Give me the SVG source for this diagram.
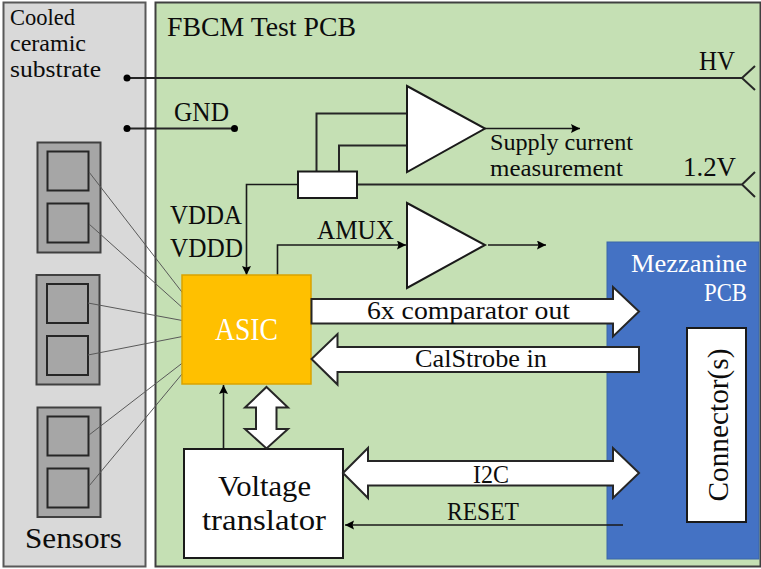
<svg xmlns="http://www.w3.org/2000/svg" width="761" height="569" viewBox="0 0 761 569">
<defs>
<marker id="ah" markerUnits="userSpaceOnUse" markerWidth="12" markerHeight="10" refX="9" refY="4.5" orient="auto"><path d="M0 0L9 4.5L0 9L1.5 4.5Z" fill="#000"/></marker>
</defs>
<style>
text{font-family:"Liberation Serif","Times New Roman",serif;fill:#0c0c0c}
text.w{fill:#fff}
.box{fill:#fff;stroke:#1a1a1a;stroke-width:2}
.mod{fill:#a6a6a6;stroke:#404040;stroke-width:2}
.cell{fill:#a6a6a6;stroke:#262626;stroke-width:2}
.ln{fill:none;stroke:#262626;stroke-width:2}
.thin{fill:none;stroke:#595959;stroke-width:1}
.arr{fill:none;stroke:#1a1a1a;stroke-width:1.6;marker-end:url(#ah)}
.big{fill:#fff;stroke:#262626;stroke-width:2;stroke-linejoin:miter}
.dot{fill:#000}
</style>
<g id="substrate"><rect x="3.5" y="2.5" width="142" height="564" fill="#d9d9d9" stroke="#595959" stroke-width="2"/>
<text x="10" y="25" font-size="24" textLength="65" lengthAdjust="spacingAndGlyphs">Cooled</text>
<text x="10" y="51" font-size="24" textLength="76" lengthAdjust="spacingAndGlyphs">ceramic</text>
<text x="10" y="77" font-size="24" textLength="91" lengthAdjust="spacingAndGlyphs">substrate</text>
<text x="25" y="548" font-size="29" textLength="97" lengthAdjust="spacingAndGlyphs">Sensors</text></g>
<g id="test-pcb"><rect x="155.5" y="2.5" width="605" height="564" fill="#c5e0b4" stroke="#404040" stroke-width="2"/>
<text x="167" y="36" font-size="28" textLength="189" lengthAdjust="spacingAndGlyphs">FBCM Test PCB</text></g>
<g id="mezzanine"><rect x="607" y="242" width="152" height="317" fill="#4472c4" stroke="#3a66a8" stroke-width="1"/>
<text class="w" x="631" y="272" font-size="26" textLength="116" lengthAdjust="spacingAndGlyphs">Mezzanine</text>
<text class="w" x="704" y="301" font-size="25" textLength="43" lengthAdjust="spacingAndGlyphs">PCB</text></g>
<g id="sensor-1"><rect class="mod" x="37.5" y="142.5" width="63" height="110"/><rect class="cell" x="47.5" y="151.5" width="41" height="39"/><rect class="cell" x="47.5" y="203.5" width="41" height="39"/></g>
<g id="sensor-2"><rect class="mod" x="36.5" y="275" width="63" height="109.5"/><rect class="cell" x="47" y="284" width="41" height="39"/><rect class="cell" x="47" y="336" width="41" height="39"/></g>
<g id="sensor-3"><rect class="mod" x="37.5" y="407.5" width="63" height="109.5"/><rect class="cell" x="47.5" y="416.5" width="41" height="39"/><rect class="cell" x="47.5" y="468.5" width="41" height="39"/></g>
<g id="connectors">
<path class="thin" d="M89 172L185 296M89 224L185 310M88 303L185 321M88 355L185 336M89 435L185 361M89 486L182 374"/>
<path class="ln" d="M755 66L742 78L755 90M742 78H127M755 172L742 184.500L755 197M742 184.500H357"/>
<path class="ln" d="M127 128.500H234.500M316.500 171V113.500H407M339 171V145.500H407"/>
<circle class="dot" cx="127" cy="78" r="3.500"/><circle class="dot" cx="127" cy="128.500" r="3.500"/><circle class="dot" cx="234.500" cy="128.500" r="3.500"/>
<path class="arr" d="M298 184.500H246.500V275"/>
<path class="arr" d="M485 128.500H580"/>
<path class="arr" d="M277.500 275V245H406"/>
<path class="arr" d="M488 245H546"/>
<path class="arr" d="M223.500 448V385"/>
<path class="arr" d="M623 525H345"/>
</g>
<g id="shunt"><rect class="box" x="298" y="171.500" width="59" height="26.500"/></g>
<g id="amp-current"><path class="box" d="M407 86L485 128.500L407 172Z"/></g>
<g id="amp-amux"><path class="box" d="M407 203L485 245L407 288Z"/></g>
<g id="asic"><rect x="182" y="275" width="129" height="109" fill="#ffc000" stroke="#d9a300" stroke-width="1.500"/><text class="w" x="215" y="340" font-size="31" textLength="63" lengthAdjust="spacingAndGlyphs">ASIC</text></g>
<g id="translator"><rect class="box" x="184" y="449" width="159" height="109"/>
<text x="218" y="496" font-size="29" textLength="93" lengthAdjust="spacingAndGlyphs">Voltage</text>
<text x="202" y="530" font-size="29" textLength="124" lengthAdjust="spacingAndGlyphs">translator</text></g>
<g id="connector-block"><rect class="box" x="687" y="328" width="59" height="194"/>
<text transform="translate(727.500 501.500) rotate(-90)" font-size="30" textLength="153" lengthAdjust="spacingAndGlyphs">Connector(s)</text></g>
<g id="bus-comparator"><path class="big" d="M311.500 299H613V287L639 311.500L613 336.500V323.500H311.500Z"/><text x="367" y="319" font-size="26" textLength="203" lengthAdjust="spacingAndGlyphs">6x comparator out</text></g>
<g id="bus-calstrobe"><path class="big" d="M639 347H337.500V334L311.500 359L337.500 384.500V372H639Z"/><text x="415" y="367" font-size="26" textLength="132" lengthAdjust="spacingAndGlyphs">CalStrobe in</text></g>
<g id="bus-i2c"><path class="big" d="M343 473L368 448V461H613V448L639 473L613 498V485.500H368V498Z"/><text x="473" y="482.500" font-size="25" textLength="36" lengthAdjust="spacingAndGlyphs">I2C</text></g>
<g id="bus-translator"><path class="big" d="M266.500 387L288 407.500H276.500V429H288L266.500 448.500L245 429H256V407.500H245Z"/></g>
<g id="labels">
<text x="174" y="120.500" font-size="27" textLength="55" lengthAdjust="spacingAndGlyphs">GND</text>
<text x="170" y="224" font-size="27" textLength="72" lengthAdjust="spacingAndGlyphs">VDDA</text>
<text x="170" y="257" font-size="27" textLength="73" lengthAdjust="spacingAndGlyphs">VDDD</text>
<text x="317" y="239" font-size="27" textLength="77" lengthAdjust="spacingAndGlyphs">AMUX</text>
<text x="699" y="70" font-size="28" textLength="36" lengthAdjust="spacingAndGlyphs">HV</text>
<text x="683" y="176" font-size="28" textLength="53" lengthAdjust="spacingAndGlyphs">1.2V</text>
<text x="490" y="150" font-size="23" textLength="143" lengthAdjust="spacingAndGlyphs">Supply current</text>
<text x="490" y="176" font-size="23" textLength="133" lengthAdjust="spacingAndGlyphs">measurement</text>
<text x="447" y="520" font-size="25" textLength="72" lengthAdjust="spacingAndGlyphs">RESET</text>
</g>
</svg>
